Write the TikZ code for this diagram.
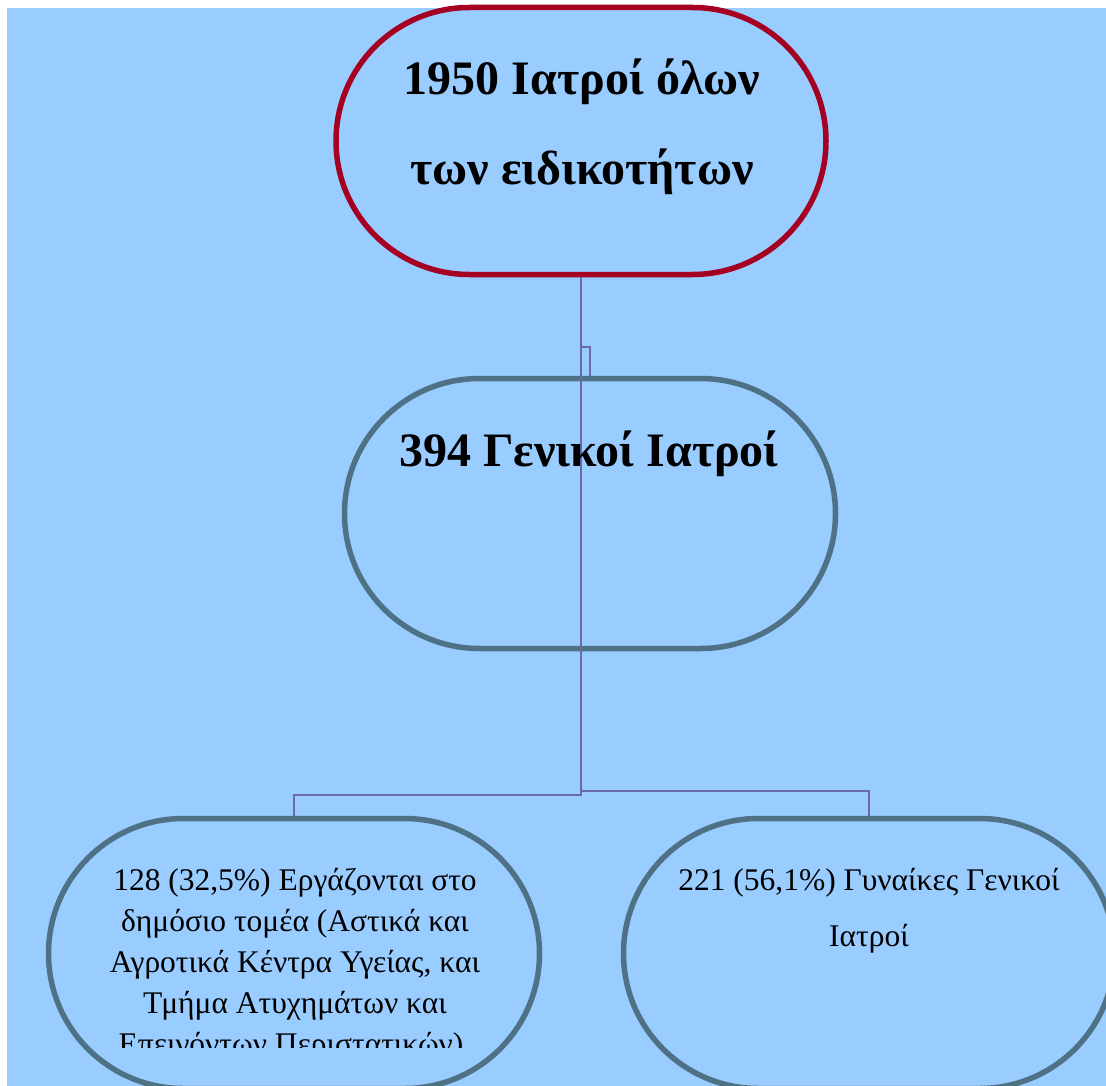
\documentclass[tikz,border=0pt]{standalone}
\usepackage{fontspec}
\setmainfont{Liberation Serif}
\usetikzlibrary{shapes.misc}
\definecolor{skyback}{HTML}{99CCFF}
\definecolor{rootred}{HTML}{A50021}
\definecolor{nodeslate}{HTML}{4E7185}
\definecolor{linkviolet}{HTML}{6A6AAA}
\begin{document}
\begin{tikzpicture}[x=1pt,y=-1pt,
        pill/.style={draw,rounded rectangle,line width=5.5pt,minimum width=491pt,minimum height=270pt,inner sep=0pt},
        link/.style={draw=linkviolet,line width=1.8pt},
        bigtext/.style={align=center,inner sep=0pt,font=\bfseries\fontsize{48}{90}\selectfont},
        smalltext/.style={align=center,inner sep=0pt,font=\fontsize{31.5}{41}\selectfont}]
            \useasboundingbox (0,0) rectangle (1106,1086);
            \clip (0,0) rectangle (1106,1086);
            \fill[skyback] (7,8) rectangle (1106,1086);

            \node[pill,draw=rootred,minimum width=490pt,minimum height=267pt] (doctors) at (581,141) {};
            \node[pill,draw=nodeslate] (gp) at (590,513.5) {};
            \node[pill,draw=nodeslate] (public) at (294,953.5) {};
            \node[pill,draw=nodeslate] (women) at (869,953.5) {};

            \draw[link] (doctors.south) -- ++(0,69.5) -| (gp.north);
            \draw[link] (doctors.south) -- ++(0,517.5) -| (public.north);
            \draw[link] (doctors.south) -- ++(0,513.5) -| (women.north);

            % the base of a two-line text is its last line
            \node[bigtext,anchor=base] (doctorstext) at (582,185) {1950 Ιατροί όλων\\των ειδικοτήτων};
            \node[bigtext,anchor=base] (gptext) at (589,466) {394 Γενικοί Ιατροί};
            \begin{scope}
                \clip (0,0) rectangle (1106,1047);
                \node[smalltext,anchor=base] (publictext) at (295,1054) {128 (32,5\%) Εργάζονται στο\\δημόσιο τομέα (Αστικά και\\Αγροτικά Κέντρα Υγείας, και\\Τμήμα Ατυχημάτων και\\Επειγόντων Περιστατικών).};
            \end{scope}
            \node[smalltext,anchor=base,font=\fontsize{31.5}{56}\selectfont] (womentext) at (869,946) {221 (56,1\%) Γυναίκες Γενικοί\\Ιατροί};
        \end{tikzpicture}
\end{document}
